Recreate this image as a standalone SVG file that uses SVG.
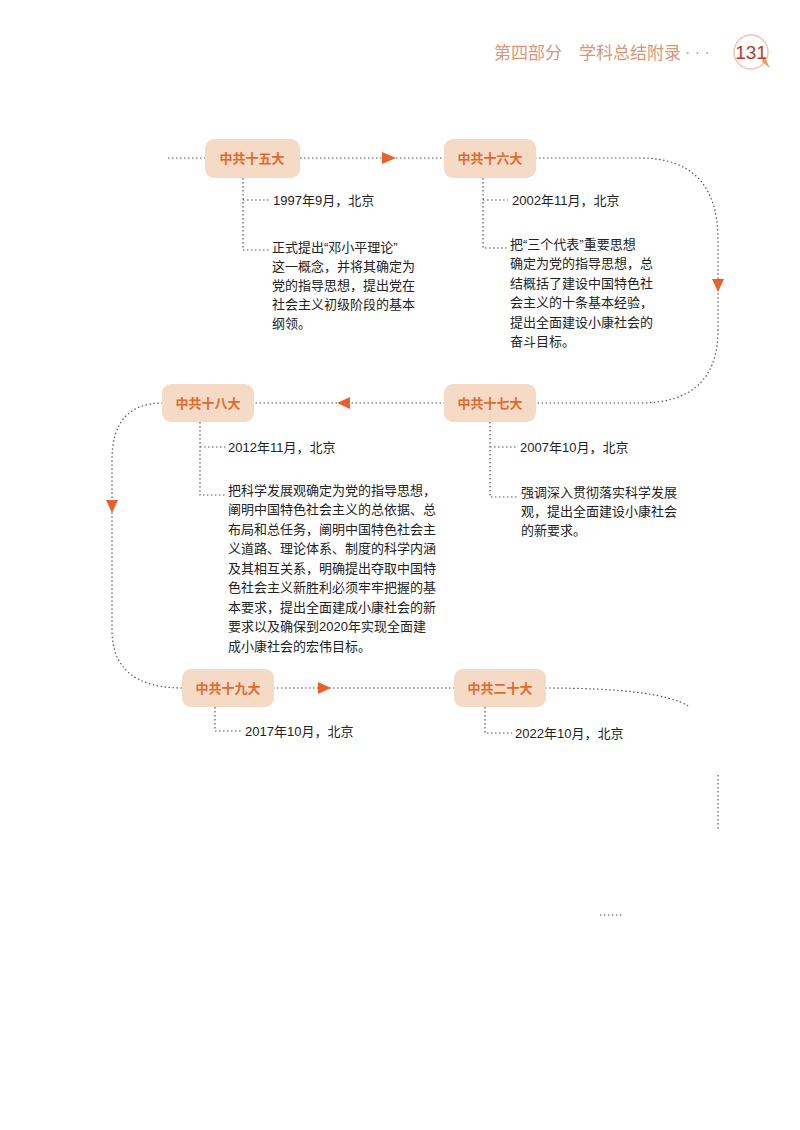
<svg xmlns="http://www.w3.org/2000/svg" width="800" height="1130" viewBox="0 0 800 1130">
<defs>
<style>
.n rect{fill:#f5dac6;}
.n text{font-family:"Noto Sans CJK SC",sans-serif;font-size:13px;font-weight:bold;fill:#e0692e;text-anchor:middle;}
.c{fill:none;stroke:#555;stroke-width:1.2;stroke-dasharray:1.5 2.5;}
.t{font-family:"Liberation Sans","Noto Sans CJK SC",sans-serif;font-size:13px;fill:#222;}
.a{fill:#e8602a;}
</style>
</defs>
<rect width="800" height="1130" fill="#fff"/>
<g id="header">
<text x="494" y="59" font-family="Noto Sans CJK SC,sans-serif" font-size="17" fill="#d9967a">第四部分　学科总结附录</text>
<text x="685" y="58" font-family="Liberation Sans,sans-serif" font-size="16" fill="#d9967a">· · ·</text>
<circle cx="751" cy="52" r="17" fill="#fff" stroke="#f2c4b4" stroke-width="1.5"/>
<path d="M762 62 L770 68 L764 56 Z" fill="#f09a5a"/>
<text x="751" y="59" text-anchor="middle" font-family="Liberation Sans,sans-serif" font-size="19" fill="#b83a2a">131</text>
</g>
<g id="connectors">
<path class="c" d="M168 158 H205 M300 158 H445"/>
<path class="c" d="M535 158 H640 Q718 158 718 240 V330 Q718 403 640 403 H535"/>
<path class="c" d="M445 403 H253"/>
<path class="c" d="M163 403 Q112 403 112 460 V630 Q112 688 183 688"/>
<path class="c" d="M273 688 H455 M545 688 Q660 688 688 706"/>
<path class="c" d="M718 775 V830"/>
<path class="c" d="M600 915 H622"/>
<path class="c" d="M243 178 V250 H270 M243 200 H270"/>
<path class="c" d="M483 178 V248 H508 M483 200 H508"/>
<path class="c" d="M490 422 V497 H518 M490 447 H518"/>
<path class="c" d="M200 422 V495 H226 M200 447 H226"/>
<path class="c" d="M215 707 V731 H242"/>
<path class="c" d="M485 707 V733 H512"/>
<path class="a" d="M382 152 L396 158 L382 164 Z"/>
<path class="a" d="M712 279 L718 292 L724 279 Z"/>
<path class="a" d="M350 397 L337 403 L350 409 Z"/>
<path class="a" d="M106 500 L112 513 L118 500 Z"/>
<path class="a" d="M318 682 L331 688 L318 694 Z"/>
</g>
<g id="n15" class="n"><rect x="205" y="139" width="95" height="39" rx="9"/><text x="252" y="163">中共十五大</text></g>
<g id="n16" class="n"><rect x="444" y="139" width="92" height="39" rx="9"/><text x="490" y="163">中共十六大</text></g>
<g id="n17" class="n"><rect x="444" y="384" width="92" height="38" rx="9"/><text x="490" y="408">中共十七大</text></g>
<g id="n18" class="n"><rect x="162" y="384" width="92" height="38" rx="9"/><text x="208" y="408">中共十八大</text></g>
<g id="n19" class="n"><rect x="182" y="669" width="92" height="38" rx="9"/><text x="228" y="693">中共十九大</text></g>
<g id="n20" class="n"><rect x="454" y="669" width="92" height="38" rx="9"/><text x="500" y="693">中共二十大</text></g>
<g id="texts" class="t">
<text x="273" y="205">1997年9月，北京</text>
<text x="272" y="252">正式提出“邓小平理论”</text>
<text x="272" y="271">这一概念，并将其确定为</text>
<text x="272" y="290">党的指导思想，提出党在</text>
<text x="272" y="309">社会主义初级阶段的基本</text>
<text x="272" y="328">纲领。</text>
<text x="512" y="205">2002年11月，北京</text>
<text x="510" y="249">把“三个代表”重要思想</text>
<text x="510" y="268">确定为党的指导思想，总</text>
<text x="510" y="288">结概括了建设中国特色社</text>
<text x="510" y="307">会主义的十条基本经验，</text>
<text x="510" y="327">提出全面建设小康社会的</text>
<text x="510" y="346">奋斗目标。</text>
<text x="520" y="452">2007年10月，北京</text>
<text x="521" y="497">强调深入贯彻落实科学发展</text>
<text x="521" y="516">观，提出全面建设小康社会</text>
<text x="521" y="535">的新要求。</text>
<text x="228" y="452">2012年11月，北京</text>
<text x="228" y="495">把科学发展观确定为党的指导思想，</text>
<text x="228" y="514">阐明中国特色社会主义的总依据、总</text>
<text x="228" y="534">布局和总任务，阐明中国特色社会主</text>
<text x="228" y="553">义道路、理论体系、制度的科学内涵</text>
<text x="228" y="573">及其相互关系，明确提出夺取中国特</text>
<text x="228" y="592">色社会主义新胜利必须牢牢把握的基</text>
<text x="228" y="612">本要求，提出全面建成小康社会的新</text>
<text x="228" y="631">要求以及确保到2020年实现全面建</text>
<text x="228" y="651">成小康社会的宏伟目标。</text>
<text x="245" y="736">2017年10月，北京</text>
<text x="515" y="738">2022年10月，北京</text>
</g>
</svg>
